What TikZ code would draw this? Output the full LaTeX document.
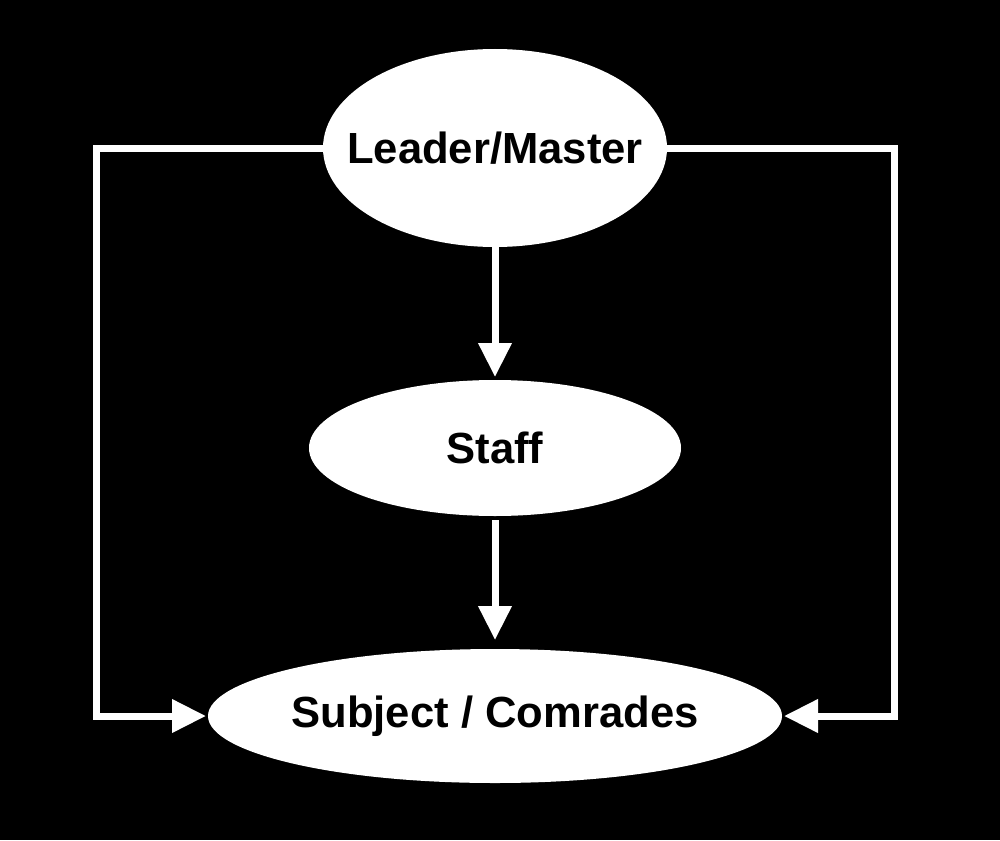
\documentclass[tikz,border=0pt]{standalone}
\usepackage{fontspec}
\setmainfont{Liberation Sans}
\usetikzlibrary{shapes.geometric,arrows.meta}
\begin{document}
\begin{tikzpicture}[x=1pt,y=-1pt,
  bubble/.style={ellipse,fill=white,draw=none,inner sep=0pt,outer sep=0pt},
  txt/.style={font=\fontsize{43.6}{50}\selectfont\bfseries,text=black,inner sep=0pt},
  conn/.style={draw=white,line width=7pt,line join=miter,
    -{Triangle[length=34pt,width=32pt]}}]
\fill[black] (0,0) rectangle (1000,840);
\useasboundingbox (0,0) rectangle (1000,840);
\node[bubble,minimum width=344pt,minimum height=198pt] (leader) at (495,148) {};
\node[txt] (leadert) at (leader.center) {Leader/Master};
\node[bubble,minimum width=372pt,minimum height=136pt] (staff) at (495,448) {};
\node[txt] (stafft) at (staff.center) {Staff};
\node[bubble,minimum width=574pt,minimum height=134pt] (subject) at (495,716) {};
\node[txt] (subjectt) at (subject.center) {Subject / Comrades};
\coordinate (lc) at (96,148);
\coordinate (rc) at (894,148);
\draw[conn] (leader.south) -- ([yshift=3pt]staff.north);
\draw[conn] ([yshift=-4pt]staff.south) -- ([yshift=9pt]subject.north);
\draw[conn] (leader.west) -- (lc) |- ([xshift=-2pt]subject.west);
\draw[conn] (leader.east) -- (rc) |- ([xshift=2pt]subject.east);
\end{tikzpicture}
\end{document}
